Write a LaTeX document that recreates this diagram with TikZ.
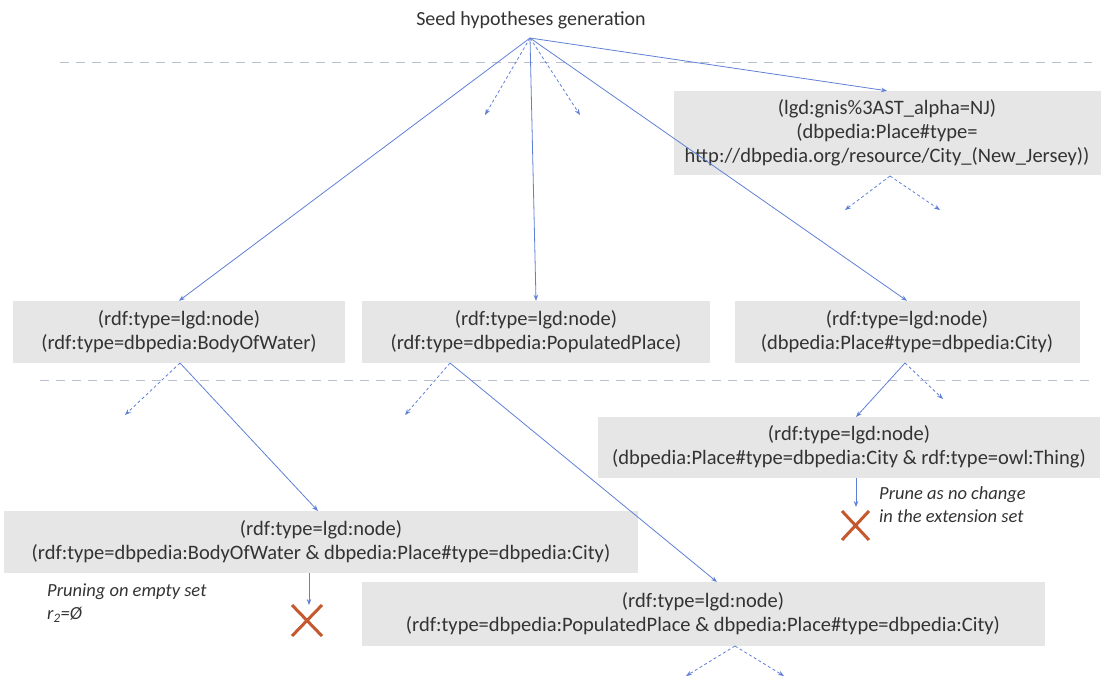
\documentclass[tikz,border=0pt]{standalone}
\usepackage{fontspec}
\setmainfont{Carlito}
\usetikzlibrary{arrows.meta}
\definecolor{lineblue}{HTML}{5F80D6}
\definecolor{boxgrey}{HTML}{E6E6E6}
\definecolor{txtgrey}{HTML}{333333}
\definecolor{sepgrey}{HTML}{B8C0D0}
\definecolor{xred}{HTML}{C4582E}
\begin{document}
\begin{tikzpicture}[x=1pt,y=-1pt,
  box/.style={fill=boxgrey,draw=none,align=center,inner sep=0pt,text=txtgrey,font=\fontsize{20.5}{24}\selectfont},
  conn/.style={draw=lineblue,line width=0.8pt,-{Stealth[length=6pt,width=4.5pt]}},
  dconn/.style={conn,dash pattern=on 3pt off 2.5pt},
  sep/.style={draw=sepgrey,line width=0.8pt,dash pattern=on 9pt off 7pt},
  note/.style={font=\itshape\fontsize{18.5}{23}\selectfont,text=txtgrey,align=left,anchor=north west,inner sep=0pt},
  xmark/.style={draw=xred,line width=3pt}]
\useasboundingbox (0,0) rectangle (1103,680);
% title and root
\node[text=txtgrey,font=\fontsize{20}{24}\selectfont] (title) at (531,20) {Seed hypotheses generation};
\coordinate (root) at (530,38);
% separators
\draw[sep] (60,62) -- (1092,62);
\draw[sep] (40,380) -- (1092,380);
% boxes
\node[box,minimum width=427pt,minimum height=84pt] (a) at (887,133)
  {(lgd:gnis\%3AST\_alpha=NJ)\\(dbpedia:Place\#type=\\http://dbpedia.org/resource/City\_(New\_Jersey))};
\node[box,minimum width=332pt,minimum height=62pt] (b1) at (179,332)
  {(rdf:type=lgd:node)\\(rdf:type=dbpedia:BodyOfWater)};
\node[box,minimum width=348pt,minimum height=62pt] (b2) at (536,332)
  {(rdf:type=lgd:node)\\(rdf:type=dbpedia:PopulatedPlace)};
\node[box,minimum width=345pt,minimum height=62pt] (b3) at (907,332)
  {(rdf:type=lgd:node)\\(dbpedia:Place\#type=dbpedia:City)};
\node[box,minimum width=502pt,minimum height=61pt] (c3) at (849,447)
  {(rdf:type=lgd:node)\\(dbpedia:Place\#type=dbpedia:City \& rdf:type=owl:Thing)};
\node[box,minimum width=634pt,minimum height=62pt] (c1) at (321,542)
  {(rdf:type=lgd:node)\\(rdf:type=dbpedia:BodyOfWater \& dbpedia:Place\#type=dbpedia:City)};
\node[box,minimum width=683pt,minimum height=64pt] (c2) at (703,614)
  {(rdf:type=lgd:node)\\(rdf:type=dbpedia:PopulatedPlace \& dbpedia:Place\#type=dbpedia:City)};
% named end points
\coordinate (d1) at (485,115);
\coordinate (d2) at (580,115);
\coordinate (as) at (890,176);
\coordinate (d3) at (845,210);
\coordinate (d4) at (940,210);
\coordinate (b1s) at (180,363);
\coordinate (d5) at (125,415);
\coordinate (c1n) at (318,511);
\coordinate (b2s) at (450,363);
\coordinate (d6) at (405,415);
\coordinate (c2n) at (717,582);
\coordinate (b3s) at (905,363);
\coordinate (d7) at (943,399);
\coordinate (c3n) at (856,417);
\coordinate (c3s) at (856,478);
\coordinate (x3) at (856,507);
\coordinate (c1s) at (309,573);
\coordinate (x1) at (309,605);
\coordinate (c2s) at (735,646);
\coordinate (d8) at (686,676);
\coordinate (d9) at (784,676);
% root connectors
\draw[conn] (root) -- (b1.north);
\draw[conn] (root) -- (b2.north);
\draw[conn] (root) -- (b3.north);
\draw[conn] (root) -- (a.north);
\draw[dconn] (root) -- (d1);
\draw[dconn] (root) -- (d2);
\draw[dconn] (as) -- (d3);
\draw[dconn] (as) -- (d4);
% level 2
\draw[conn] (b1s) -- (c1n);
\draw[dconn] (b1s) -- (d5);
\draw[conn] (b2s) -- (c2n);
\draw[dconn] (b2s) -- (d6);
\draw[conn] (b3s) -- (c3n);
\draw[dconn] (b3s) -- (d7);
% level 3
\draw[conn] (c3s) -- (x3);
\draw[conn] (c1s) -- (x1);
\draw[dconn] (c2s) -- (d8);
\draw[dconn] (c2s) -- (d9);
% X marks
\draw[xmark] (842,511) -- (869,540) (869,511) -- (842,540);
\draw[xmark] (292,605) -- (322,636) (322,605) -- (292,636);
% notes
\node[note] (n3) at (879,486) {Prune as no change\\in the extension set};
\node[note] (n1) at (47,584) {Pruning on empty set\\r\textsubscript{2}=Ø};
\end{tikzpicture}
\end{document}
